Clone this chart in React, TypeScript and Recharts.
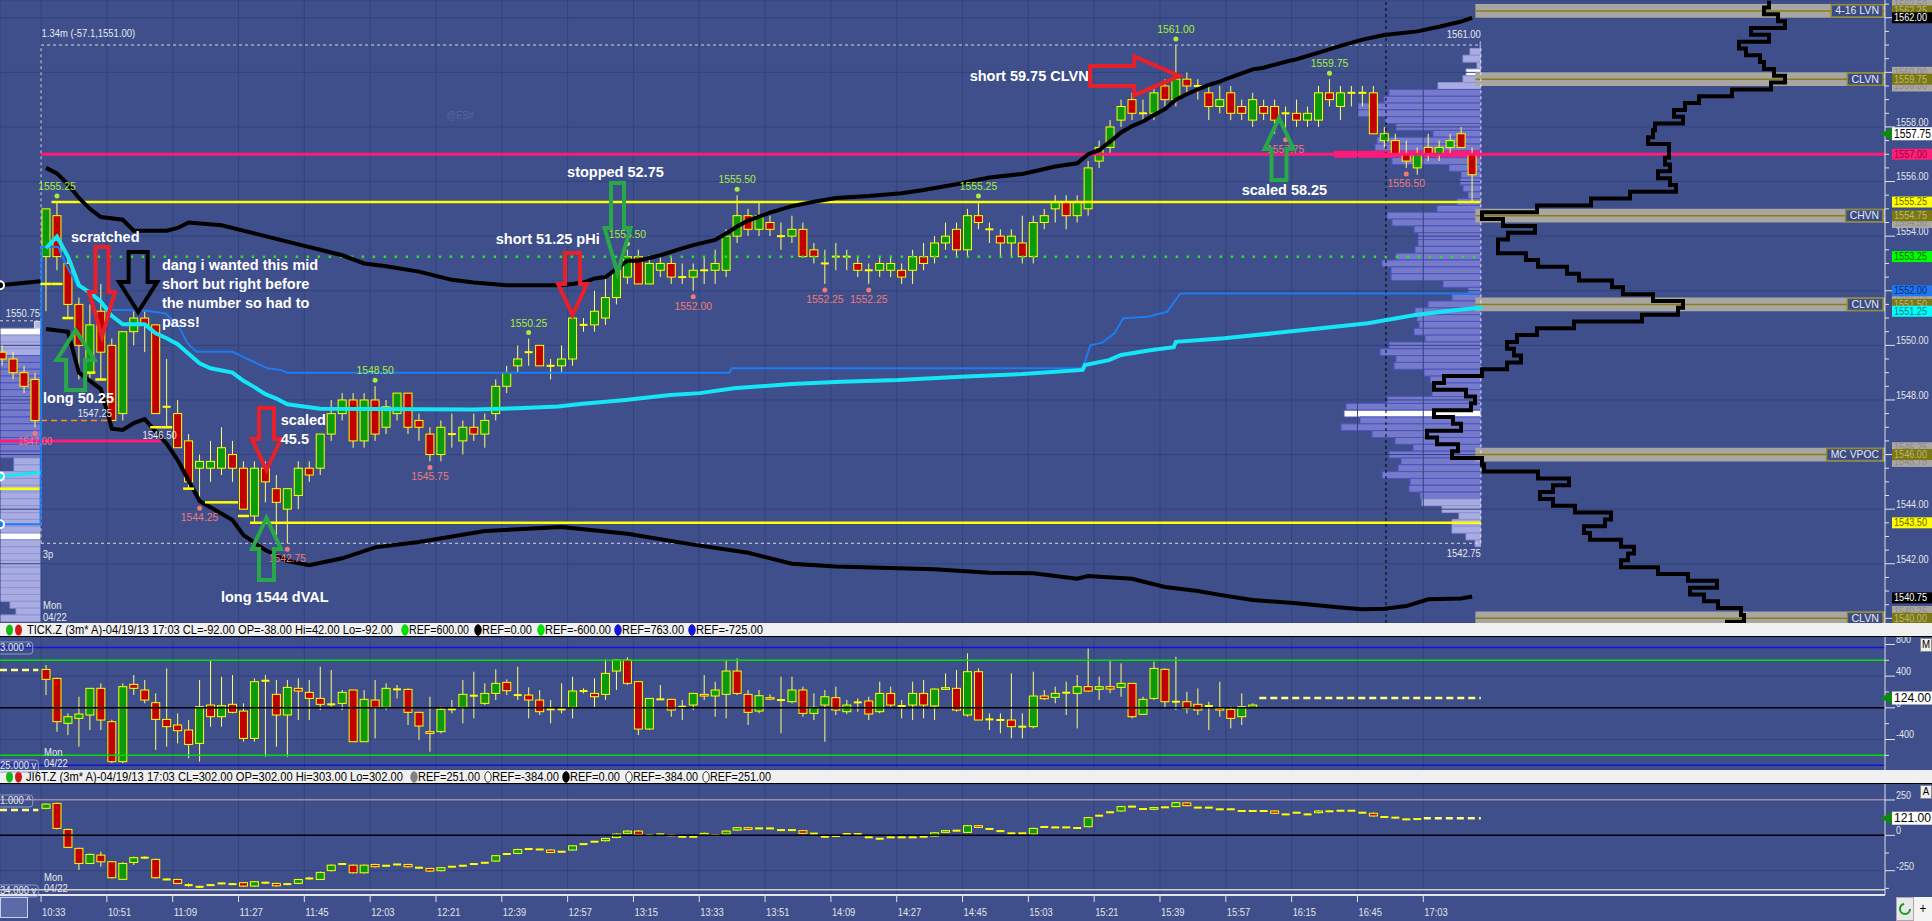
import React from 'react';
import {
  ComposedChart, Bar, Line, Scatter, XAxis, YAxis, CartesianGrid, ReferenceLine, ReferenceArea,
} from 'recharts';

// ---------- layout ----------
const W = 1932;
const H = 921;
const PLOT_R = 1885;
const AXIS_W = W - PLOT_R;
const MAIN_H = 623;
const TICK_TOP = 637;
const TICK_H = 133;
const JI_TOP = 784;
const JI_H = 137;
const XAXIS_H = 26;
const BODY_W = 8;

const SANS = '"Liberation Sans", Arial, sans-serif';
const BG = '#3e4f8b';
const GRID = '#32447d';
const AXIS_TXT = '#e4e4ea';
const BULL = '#0b9a0b';
const BEAR = '#c20000';
const OUTLINE = '#ffff00';
const WICK = '#ffff70';

const X_DOMAIN: [number, number] = [-4.193, 167.64];
const PRICE_DOMAIN: [number, number] = [1539.83, 1562.65];
const TICK_DOMAIN: [number, number] = [-785, 894];
const JI_DOMAIN: [number, number] = [-422, 363];

// ---------- time axis ----------
const timeLabels = ['10:33', '10:51', '11:09', '11:27', '11:45', '12:03', '12:21', '12:39', '12:57', '13:15', '13:33',
  '13:51', '14:09', '14:27', '14:45', '15:03', '15:21', '15:39', '15:57', '16:15', '16:45', '17:03'];
const gridTicksX = timeLabels.map((_, k) => k * 6 - 0.45);

// ---------- ES 3m bars (index -4 .. 130) ----------
const MAIN_FIRST = -4;
const mainOpen = [
  1549.75, 1549.5, 1549.0, 1548.75,
  1553.25, 1554.75, 1553.0, 1551.5, 1549.0, 1551.25, 1550.0, 1547.5, 1550.5, 1551.0,
  1550.75, 1547.75, 1547.5, 1546.5, 1545.5, 1545.5, 1545.5, 1546.0, 1545.5, 1543.75,
  1545.5, 1544.75, 1544.0, 1544.5, 1545.5, 1545.5, 1546.75, 1547.5, 1548.0, 1546.5,
  1548.0, 1547.0, 1547.5, 1548.25, 1547.25, 1546.75, 1546.0, 1546.75, 1546.5, 1547.0,
  1546.75, 1547.5, 1548.5, 1549.25, 1549.75, 1550.0, 1549.25, 1549.25, 1549.5, 1550.75,
  1550.75, 1551.0, 1551.75, 1552.5, 1553.25, 1552.25, 1552.75, 1553.0, 1552.5, 1552.5,
  1552.75, 1552.75, 1552.75, 1554.0, 1554.75, 1554.25, 1554.5, 1554.0, 1554.0, 1554.25,
  1553.5, 1553.0, 1553.25, 1553.25, 1553.0, 1552.75, 1552.75, 1552.75, 1552.75, 1552.75,
  1553.25, 1553.25, 1553.75, 1554.25, 1553.5, 1554.75, 1554.25, 1554.0, 1553.75, 1553.75,
  1553.25, 1554.5, 1555.0, 1555.25, 1554.75, 1555.0, 1556.75, 1557.25, 1558.25, 1559.0,
  1558.5, 1558.5, 1559.5, 1559.0, 1559.75, 1559.5, 1559.25, 1558.75, 1559.25, 1558.75,
  1558.25, 1558.75, 1558.75, 1558.5, 1558.5, 1558.25, 1558.25, 1559.25, 1558.75, 1559.25,
  1559.25, 1559.25, 1557.5, 1557.5, 1557.0, 1556.5, 1557.25, 1557.0, 1557.25, 1557.75, 1557.0,
];
const mainHigh = [
  1550.0, 1549.75, 1549.25, 1549.0,
  1555.0, 1555.25, 1553.25, 1551.75, 1551.5, 1552.25, 1550.25, 1550.5, 1551.25, 1551.25,
  1550.75, 1549.5, 1548.0, 1546.75, 1546.0, 1546.5, 1547.0, 1546.5, 1545.75, 1545.75,
  1545.75, 1545.25, 1544.75, 1545.75, 1545.75, 1546.75, 1548.0, 1548.25, 1548.25, 1548.25,
  1548.5, 1548.0, 1548.25, 1548.25, 1547.5, 1547.0, 1547.25, 1547.5, 1547.25, 1547.5,
  1547.5, 1548.75, 1549.25, 1550.0, 1550.25, 1550.0, 1549.5, 1550.0, 1551.25, 1551.0,
  1552.0, 1552.5, 1553.0, 1553.5, 1553.5, 1553.25, 1553.25, 1553.25, 1553.0, 1553.0,
  1553.25, 1553.5, 1554.25, 1555.5, 1555.0, 1555.25, 1554.75, 1554.5, 1554.75, 1554.5,
  1553.75, 1553.5, 1553.75, 1553.5, 1553.25, 1553.0, 1553.25, 1553.25, 1553.0, 1553.5,
  1553.75, 1554.0, 1554.5, 1554.5, 1555.0, 1555.25, 1554.5, 1554.25, 1554.25, 1554.75,
  1554.75, 1555.0, 1555.5, 1555.5, 1555.5, 1556.75, 1557.5, 1558.25, 1559.0, 1559.25,
  1559.0, 1559.5, 1559.75, 1561.0, 1560.0, 1559.75, 1559.5, 1559.5, 1559.5, 1559.0,
  1559.25, 1559.0, 1559.0, 1558.75, 1559.0, 1558.75, 1559.5, 1559.75, 1559.5, 1559.5,
  1559.5, 1559.5, 1558.0, 1557.75, 1557.5, 1557.25, 1557.75, 1557.5, 1557.75, 1558.0, 1557.25,
];
const mainLow = [
  1549.25, 1548.75, 1548.25, 1547.0,
  1551.25, 1552.75, 1551.0, 1548.75, 1548.75, 1548.75, 1547.25, 1547.25, 1550.0, 1549.75,
  1547.5, 1547.0, 1546.25, 1544.75, 1544.25, 1545.0, 1545.25, 1545.0, 1544.0, 1543.5,
  1544.25, 1543.0, 1542.75, 1544.0, 1545.0, 1545.25, 1546.5, 1547.25, 1546.25, 1546.25,
  1546.5, 1546.75, 1547.25, 1546.75, 1546.5, 1545.75, 1545.75, 1546.25, 1546.0, 1546.5,
  1546.25, 1547.25, 1548.25, 1549.0, 1549.25, 1549.25, 1548.75, 1549.0, 1549.25, 1550.5,
  1550.5, 1550.75, 1551.5, 1552.25, 1552.25, 1552.25, 1552.5, 1552.25, 1552.25, 1552.0,
  1552.25, 1552.25, 1552.5, 1553.75, 1554.0, 1554.0, 1554.0, 1553.5, 1553.75, 1553.25,
  1553.0, 1552.25, 1552.75, 1552.75, 1552.5, 1552.25, 1552.5, 1552.5, 1552.25, 1552.25,
  1552.75, 1553.0, 1553.5, 1553.25, 1553.25, 1554.25, 1553.75, 1553.25, 1553.25, 1553.0,
  1553.0, 1554.25, 1554.5, 1554.25, 1554.5, 1554.75, 1556.5, 1557.0, 1558.0, 1558.25,
  1558.25, 1558.25, 1558.75, 1558.75, 1559.25, 1559.0, 1558.25, 1558.5, 1558.25, 1558.25,
  1558.0, 1558.25, 1557.75, 1557.75, 1558.0, 1558.0, 1558.0, 1558.75, 1558.25, 1558.75,
  1558.75, 1557.75, 1557.25, 1557.0, 1556.5, 1556.25, 1556.75, 1556.75, 1557.0, 1557.25, 1555.25,
];
const mainClose = [
  1549.5, 1549.0, 1548.5, 1547.25,
  1555.0, 1553.25, 1551.5, 1550.0, 1550.75, 1549.75, 1547.25, 1550.5, 1551.0, 1550.75,
  1547.5, 1547.75, 1546.25, 1545.0, 1545.75, 1545.75, 1546.25, 1545.5, 1544.0, 1545.5,
  1545.0, 1544.25, 1544.75, 1545.5, 1545.25, 1546.75, 1547.5, 1548.0, 1546.5, 1548.0,
  1546.75, 1547.75, 1548.25, 1547.0, 1547.0, 1546.0, 1547.0, 1546.75, 1547.0, 1546.75,
  1547.25, 1548.5, 1549.0, 1549.5, 1549.75, 1549.25, 1549.25, 1549.5, 1551.0, 1550.75,
  1551.25, 1551.75, 1552.75, 1553.25, 1552.25, 1553.0, 1553.0, 1552.5, 1552.5, 1552.75,
  1552.75, 1553.0, 1554.0, 1554.75, 1554.25, 1554.75, 1554.25, 1554.0, 1554.25, 1553.25,
  1553.25, 1553.0, 1553.25, 1553.25, 1552.75, 1552.75, 1553.0, 1553.0, 1552.5, 1553.25,
  1553.0, 1553.75, 1554.0, 1553.5, 1554.75, 1554.5, 1554.25, 1553.75, 1554.0, 1553.25,
  1554.5, 1554.75, 1555.25, 1554.75, 1555.25, 1556.5, 1557.25, 1558.0, 1558.75, 1558.5,
  1558.5, 1559.25, 1559.0, 1559.75, 1559.5, 1559.5, 1558.75, 1559.0, 1558.5, 1558.5,
  1559.0, 1558.5, 1558.25, 1558.5, 1558.25, 1558.5, 1559.25, 1559.0, 1559.25, 1559.25,
  1559.25, 1557.75, 1557.75, 1557.0, 1556.75, 1557.0, 1557.0, 1557.25, 1557.5, 1557.25, 1556.25,
];
const swingHighIdx = [1, 30, 44, 53, 63, 85, 103, 117];
const swingLowIdx = [-1, 14, 22, 35, 59, 71, 75, 113, 124];
const unlabeledLows = [-1];

// ---------- indicator curves (bar index, price) ----------
const upperBand = [
  [0, 1556.5], [1, 1556.3], [2, 1555.9], [3, 1555.4], [4, 1555.0], [5, 1554.7], [7, 1554.6], [8, 1554.2], [11, 1554.2],
  [12, 1554.3], [13, 1554.5], [16, 1554.4], [19, 1554.1], [21, 1553.9], [23, 1553.7], [25, 1553.5], [27, 1553.3],
  [29, 1553.0], [31, 1552.9], [34, 1552.7], [36, 1552.5], [37, 1552.4], [39, 1552.3], [42, 1552.2], [47, 1552.2],
  [49, 1552.3], [50, 1552.45], [51, 1552.5], [53, 1553.1], [54, 1553.1], [56, 1553.3], [58, 1553.55], [59, 1553.67],
  [61, 1553.86], [62, 1554.1], [63, 1554.35], [64, 1554.57], [66, 1554.86], [68, 1555.1], [70, 1555.26], [72, 1555.4],
  [75, 1555.47], [78, 1555.57], [80, 1555.69], [83, 1555.9], [86, 1556.15], [89, 1556.28], [92, 1556.55], [94, 1556.67],
  [95, 1557.0], [96, 1557.15], [97, 1557.46], [98, 1557.8], [99, 1558.03], [100, 1558.2], [101, 1558.44], [102, 1558.65],
  [103, 1559.0], [104, 1559.2], [105, 1559.38], [106, 1559.54], [107, 1559.66], [108, 1559.82], [109, 1559.96],
  [110, 1560.11], [111, 1560.17], [113, 1560.39], [114, 1560.48], [116, 1560.72], [118, 1560.97], [120, 1561.2],
  [122, 1561.37], [125, 1561.5], [127, 1561.67], [129, 1561.86], [130, 1562.0],
];
const lowerBand = [
  [0, 1550.6], [2, 1550.5], [3, 1549.0], [5, 1548.4], [6, 1546.95], [7, 1546.9], [8, 1547.15], [9, 1547.3],
  [11, 1546.4], [12, 1545.8], [14, 1544.3],
  [17, 1543.6], [18, 1543.05], [20, 1542.5], [22, 1542.1], [24, 1541.95], [27, 1542.2], [30, 1542.6], [34, 1542.8],
  [40, 1543.2], [47, 1543.35], [53, 1543.1], [59, 1542.7], [64, 1542.4], [68, 1542.0], [72, 1541.9], [81, 1541.8],
  [86, 1541.67], [90, 1541.65], [94, 1541.45], [95, 1541.55], [99, 1541.45], [102, 1541.15], [105, 1541.0],
  [107, 1540.86], [110, 1540.67], [114, 1540.55], [118, 1540.4], [120, 1540.33], [122, 1540.35], [124, 1540.45],
  [126, 1540.7], [129, 1540.73], [130, 1540.8],
];
const prevBand = [[-4.19, 1552.2], [-0.5, 1552.35]];
const blueLine = [
  [-4.19, 1543.45], [-0.5, 1543.45], [-0.4, 1553.6], [1.1, 1553.6], [1.9, 1552.9], [2.9, 1552.15], [4, 1552.0],
  [5.6, 1551.4], [6, 1551.3], [9.2, 1551.27], [10.9, 1551.17], [12.1, 1550.7], [12.9, 1550.08], [13.7, 1549.77],
  [17, 1549.77], [18.2, 1549.53], [20.2, 1549.16], [21.4, 1549.1], [22, 1549.0], [62.3, 1549.0], [62.5, 1549.16],
  [94.5, 1549.16], [95.2, 1550.0], [96.3, 1550.1], [97.4, 1550.44], [98.2, 1550.99], [100.4, 1551.05],
  [102.2, 1551.23], [103.4, 1551.9], [130.4, 1551.9],
];
const cyanLine = [
  [0, 1553.56], [1, 1553.98], [2, 1553.25], [3, 1552.2], [4, 1551.93], [5, 1551.6], [6, 1551.08], [7, 1550.77],
  [9, 1550.77], [10, 1550.44], [11, 1550.26], [12, 1550.04], [13, 1549.69], [14, 1549.34], [15, 1549.16], [17, 1549.0],
  [18, 1548.7], [19, 1548.47], [20, 1548.21], [21, 1548.05], [22, 1547.84], [23.5, 1547.76], [25, 1547.68],
  [39, 1547.65], [43, 1547.7], [46.7, 1547.76], [48.7, 1547.85], [52.8, 1548.0], [56.9, 1548.18], [59.6, 1548.25],
  [62.7, 1548.43], [68, 1548.58], [72.5, 1548.67], [77.7, 1548.73], [83.4, 1548.85], [89, 1548.95], [94.5, 1549.1],
  [94.7, 1549.28], [96.9, 1549.46], [98, 1549.65], [100.8, 1549.83], [102.8, 1549.93], [103, 1550.13],
  [107.4, 1550.26], [111.8, 1550.44], [116, 1550.62], [120.5, 1550.81], [124.8, 1551.11], [128, 1551.27], [130.9, 1551.39],
];
const prevCyan = [[-4.19, 1545.2], [-0.5, 1545.35]];
const devVal = [[0, 1552.25], [1, 1552.25], [2, 1551.0], [4, 1549.0], [5, 1548.75], [10, 1547.0], [11, 1547.0],
  [13, 1544.75], [15, 1544.25], [16, 1544.25], [17, 1544.25], [18, 1543.75]];

// ---------- volume profiles ----------
const SESSION_TOP = 1561.0;
const sessionVolume = [1, 11, 18, 4, 15, 18, 43, 92, 97, 123, 123, 96, 85, 48, 104, 106, 147, 89, 32, 20,
  21, 18, 13, 24, 44, 94, 89, 67, 63, 63, 66, 85, 99, 90, 90, 38, 13, 29, 53, 66,
  64, 62, 67, 56, 92, 101, 85, 87, 57, 51, 46, 49, 94, 135, 137, 121, 140, 109, 86, 68,
  92, 80, 83, 99, 71, 72, 61, 59, 39, 22, 29, 29, 15, 6];
const sessionWhite = [1560.0, 1547.5];
const sessionPink = [1557.0];
const VA: [number, number] = [1544.5, 1559.25];

const PREV_TOP = 1550.5;
const prevVolume = [96, 88, 104, 120, 131, 126, 118, 140, 133, 122, 117, 128, 135, 124, 119, 112, 106, 98, 92,
  27, 27, 84, 90, 96, 102, 95, 88, 93, 99, 104, 110, 97, 91, 86, 94, 100, 89, 83, 92, 87, 31, 25, 80];
const prevWhite = [1550.5, 1543.0];

const COMPOSITE_TOP = 1562.5;
const compositeVolume = [369, 364, 378, 385, 351, 369, 339, 346, 360, 364, 374, 385, 371, 332, 299, 285, 274, 283,
  255, 253, 248, 269, 269, 265, 270, 258, 270, 276, 230, 191, 137, 82, 103, 135, 108, 98, 98, 126, 138, 167,
  179, 212, 223, 253, 283, 278, 242, 174, 137, 117, 107, 114, 121, 107, 82, 44, 34, 66, 75, 71, 34, 53,
  61, 27, 37, 58, 52, 82, 84, 138, 169, 153, 140, 153, 175, 211, 205, 184, 190, 221, 234, 228, 221,
  258, 288, 317, 290, 304, 318, 341, 344, 327];
const PROFILE_ANCHOR = 1481;
const PROFILE_END_I = 130.8;
const COMP_LEFT = 1400;

// ---------- zones, tags, notes ----------
const ZONE_START = 130.3;
const zones = [
  { lo: 1562.0, hi: 1562.5, name: '4-16 LVN' },
  { lo: 1559.5, hi: 1560.0, name: 'CLVN' },
  { lo: 1554.5, hi: 1555.0, name: 'CHVN' },
  { lo: 1551.25, hi: 1551.75, name: 'CLVN' },
  { lo: 1545.75, hi: 1546.25, name: 'MC VPOC' },
  { lo: 1539.75, hi: 1540.25, name: 'CLVN' },
];
const tagPrices = [1562.5, 1562.25, 1562.0, 1560.0, 1559.75, 1559.5, 1557.75, 1557.0, 1555.25, 1554.75, 1554.5,
  1553.25, 1552.0, 1551.75, 1551.5, 1551.25, 1546.25, 1546.0, 1545.75, 1543.5, 1540.75, 1540.25, 1540.0];
const tagKinds = ['edge', 'mid', 'band', 'edge', 'mid', 'edge', 'last', 'pink', 'yellow', 'mid', 'edge',
  'green', 'blue', 'edge', 'mid', 'cyan', 'edge', 'mid', 'edge', 'yellow', 'band', 'edge', 'mid'];
const TAG_STYLE: Record<string, { bg: string; fg: string; rank: number }> = {
  edge: { bg: '#aaa7a3', fg: '#8a8a8a', rank: 0 },
  mid: { bg: '#7b7812', fg: '#bdb67a', rank: 1 },
  band: { bg: '#000000', fg: '#ffffff', rank: 2 },
  pink: { bg: '#ff1f7a', fg: '#9a0035', rank: 2 },
  yellow: { bg: '#ffff00', fg: '#6a6a00', rank: 2 },
  green: { bg: '#00ff00', fg: '#006400', rank: 2 },
  blue: { bg: '#1e78f0', fg: '#0a2a70', rank: 2 },
  cyan: { bg: '#00ffff', fg: '#007777', rank: 2 },
  last: { bg: '#ffffff', fg: '#000000', rank: 3 },
};

const arrows = [
  { i: 5.1, p: 1550.31, dir: 'down', tone: 'red', size: 'tall' },
  { i: 8.4, p: 1551.22, dir: 'down', tone: 'black', size: 'wide' },
  { i: 2.7, p: 1550.56, dir: 'up', tone: 'green', size: 'wide' },
  { i: 20.1, p: 1545.43, dir: 'down', tone: 'red', size: 'short' },
  { i: 20.1, p: 1543.68, dir: 'up', tone: 'green', size: 'short' },
  { i: 48.0, p: 1551.11, dir: 'down', tone: 'red', size: 'short' },
  { i: 52.1, p: 1552.65, dir: 'down', tone: 'green', size: 'tall' },
  { i: 112.4, p: 1558.33, dir: 'up', tone: 'green', size: 'short' },
  { i: 103.3, p: 1559.87, dir: 'right', tone: 'red', size: 'side' },
];
const ARROW_SIZE: Record<string, { len: number; head: number; w: number; shaft: number }> = {
  tall: { len: 90, head: 45, w: 26, shaft: 13 },
  wide: { len: 60, head: 30, w: 38, shaft: 19 },
  short: { len: 62, head: 31, w: 29, shaft: 15 },
  side: { len: 89, head: 45, w: 39, shaft: 20 },
};
const ARROW_TONE: Record<string, string> = { red: '#e8202a', green: '#28a848', black: '#000000' };

const notes = [
  { i: 2.28, p: 1553.93, lines: ['scratched'] },
  { i: 10.57, p: 1552.92, lines: ['dang i wanted this mid', 'short but right before', 'the number so had to', 'pass!'] },
  { i: -0.27, p: 1548.03, lines: ['long 50.25'] },
  { i: 21.4, p: 1547.23, lines: ['scaled', '45.5'] },
  { i: 15.95, p: 1540.75, lines: ['long 1544 dVAL'] },
  { i: 41.0, p: 1553.86, lines: ['short 51.25 pHi'] },
  { i: 47.5, p: 1556.31, lines: ['stopped 52.75'] },
  { i: 84.2, p: 1559.83, lines: ['short 59.75 CLVN'] },
  { i: 109.0, p: 1555.65, lines: ['scaled 58.25'] },
];
const smallNotes = [
  { i: -0.4, p: 1561.4, t: '1.34m (-57.1,1551.00)', tone: 'white', anchor: 'start' },
  { i: 36.5, p: 1558.4, t: '@ES#', tone: 'mark', anchor: 'start' },
  { i: 130.8, p: 1561.37, t: '1561.00', tone: 'white', anchor: 'end' },
  { i: 130.8, p: 1542.36, t: '1542.75', tone: 'white', anchor: 'end' },
  { i: -0.3, p: 1542.32, t: '3p', tone: 'white', anchor: 'start' },
  { i: -0.55, p: 1551.15, t: '1550.75', tone: 'white', anchor: 'end' },
  { i: 2.9, p: 1547.48, t: '1547.25', tone: 'white', anchor: 'start' },
  { i: 8.8, p: 1546.68, t: '1546.50', tone: 'white', anchor: 'start' },
  { i: -2.55, p: 1546.46, t: '1547.00', tone: 'pink', anchor: 'start' },
  { i: -0.27, p: 1540.45, t: 'Mon', tone: 'white', anchor: 'start' },
  { i: -0.27, p: 1540.01, t: '04/22', tone: 'white', anchor: 'start' },
];
const NOTE_TONE: Record<string, string> = { white: '#e8e8f0', mark: '#56649e', pink: '#ff6a8e' };

// ---------- TICK (index 0 .. 110) ----------
const tickOpen = [485, 372, -196, -133, -91, 246, -175, -680, 296, 225, 65, -146, -217, -280, -449, 35, -112, 44, -41, -386,
  342, 170, -91, 246, 195, 119, 44, 56, 225, -428, 98, 6, 233, 233, -57, -301, -301, -19, 6, 153,
  56, 182, 321, 161, 161, 98, -19, -19, 6, 212, 182, 170, 464, 603, 330, -268, 107, 107, 14, 35,
  170, 149, 170, 464, 170, -41, 128, 98, 77, 225, -70, 35, 128, -49, 69, 86, -49, 182, 23, 35,
  182, 23, 233, 246, -91, 456, -146, -154, -154, -238, -238, 149, 132, 191, 182, 267, 233, 267, 258, 309,
  -82, 119, 486, 77, 77, 44, 23, -7, -19, -112, 6];
const tickHigh = [540, 380, -70, 140, 246, 309, -150, 309, 414, 351, 182, 498, -70, -154, 351, 603, 393, 414, 56, 372,
  414, 351, 351, 372, 351, 519, 477, 225, 225, 225, 351, 309, 288, 246, -49, 140, 14, 98, 351, 456,
  309, 486, 359, 519, 258, 225, 98, 309, 393, 246, 372, 612, 612, 637, 330, 119, 288, 107, 98, 191,
  414, 330, 603, 624, 225, 225, 170, 393, 393, 267, 182, 225, 267, 100, 119, 140, 330, 267, 98, 330,
  351, 246, 435, 477, 687, 498, -70, -70, 435, -70, 456, 225, 267, 330, 414, 751, 393, 603, 561, 309,
  140, 582, 498, 645, 203, 245, 77, 330, 14, 182, 56];
const tickLow = [161, -302, -344, -490, -280, -280, -700, -700, 161, 56, -533, -491, -449, -638, -680, -238, -238, -70, -428, -428,
  -617, -491, -617, -154, -154, -28, 14, -28, -428, -428, -386, -28, 119, -217, -407, -554, -323, -70, -196, -133,
  35, 98, 161, 98, -133, -91, -196, -70, -133, 182, -7, 98, 225, 288, -344, -280, 98, -112, -154, -28,
  98, -112, -133, 161, -217, -70, 98, -322, 56, -112, -154, -428, -91, -80, -49, -154, -70, 14, -133, -154,
  -133, -154, 225, -49, -112, -154, -280, -322, -386, -386, -260, 98, 56, -91, -260, 203, 98, 183, 140, -133,
  -91, 98, -7, -28, -70, -91, -280, -112, -260, -217, 0];
const tickClose = [359, -175, -112, -78, 246, -154, -680, 267, 246, 98, -146, -238, -289, -462, 14, -112, 27, -57, -386, 330,
  342, -91, 258, 212, 119, 44, 44, 195, -428, 107, 6, 246, 233, -57, -230, -323, -19, -19, 170, 153,
  182, 309, 216, 161, 98, -49, -19, -19, 212, 212, 140, 435, 603, 309, -268, 119, 107, -28, 14, 182,
  149, 225, 464, 182, -57, 153, 111, 98, 225, -70, 6, 140, -28, 35, 69, -78, 182, 35, 23, 182,
  35, 237, 254, -28, 456, -154, -146, -154, -238, -238, 149, 115, 182, 191, 267, 212, 267, 237, 309, -112,
  107, 498, 77, 77, -7, -28, 23, -28, -133, 14, 35];
const tickRefs = [
  { v: 763, color: '#1414d2' }, { v: 600, color: '#00e000' }, { v: 0, color: '#000000' },
  { v: -600, color: '#00e000' }, { v: -725, color: '#1414d2' },
];
const TICK_LAST = 124;
const TICK_PREV_AVG = 477;

// ---------- JI6T (index 0 .. 125) ----------
const jiOpen = [191, 226, 42, -92, -199, -140, -187, -311, -192, -158, -170, -312, -312, -352, -364, -352, -340, -345, -335, -359,
  -335, -340, -345, -340, -305, -312, -250, -203, -211, -265, -206, -215, -206, -206, -229, -234, -250, -222, -215, -203,
  -194, -182, -132, -128, -97, -100, -104, -116, -104, -62, -45, -38, -15, 14, 30, 2, 7, 0, -10, -10,
  2, 2, 9, 37, 54, 49, 49, 37, 37, 33, 12, -10, -5, 9, 9, -14, -24, -14, -14, -14,
  -10, -5, 21, 33, 21, 68, 45, 30, 14, 14, 9, 59, 56, 56, 52, 61, 139, 163, 172, 203,
  186, 184, 198, 203, 229, 196, 196, 184, 184, 172, 172, 172, 172, 148, 160, 148, 160, 170, 174, 174,
  160, 156, 130, 125, 113, 115];
const jiClose = [221, 49, -85, -199, -135, -187, -300, -199, -158, -158, -300, -312, -340, -352, -364, -352, -340, -345, -359, -328,
  -335, -357, -345, -312, -305, -262, -211, -203, -265, -211, -222, -215, -206, -222, -229, -253, -229, -222, -215, -203,
  -194, -144, -132, -100, -97, -100, -121, -116, -74, -62, -45, -22, 9, 30, 7, 2, 7, 0, -10, -10,
  14, 2, 30, 54, 42, 49, 49, 37, 37, 14, 12, -10, -5, 9, 9, -14, -24, -14, -14, -14,
  -10, 18, 33, 33, 68, 56, 45, 30, 14, 14, 49, 59, 56, 56, 52, 125, 139, 163, 203, 203,
  186, 196, 198, 231, 210, 196, 196, 184, 184, 172, 172, 172, 156, 148, 160, 148, 172, 170, 174, 174,
  160, 137, 130, 125, 113, 115];
const jiHigh = [226, 232, 46, -88, -128, -116, -183, -190, -150, -150, -165, -305, -308, -340, -357, -345, -333, -338, -330, -323,
  -328, -335, -338, -308, -298, -256, -205, -196, -206, -206, -201, -210, -201, -201, -224, -229, -224, -217, -210, -198,
  -189, -139, -127, -95, -92, -95, -99, -111, -69, -57, -40, -17, 14, 35, 35, 7, 12, 5, -5, -5,
  19, 7, 35, 59, 59, 54, 54, 42, 42, 38, 17, -5, 0, 14, 14, -9, -19, -9, -9, -9,
  -5, 23, 38, 38, 73, 73, 50, 35, 19, 19, 54, 64, 61, 61, 57, 130, 144, 168, 208, 208,
  191, 201, 203, 236, 234, 201, 201, 189, 189, 177, 177, 177, 177, 153, 165, 153, 177, 175, 179, 179,
  165, 161, 135, 130, 118, 120];
const jiLow = [185, 42, -90, -245, -203, -222, -305, -315, -210, -165, -305, -318, -345, -364, -371, -359, -347, -352, -364, -364,
  -342, -362, -352, -345, -312, -316, -255, -210, -270, -270, -227, -220, -211, -227, -234, -258, -255, -227, -220, -208,
  -199, -187, -137, -133, -102, -105, -126, -121, -109, -67, -50, -43, -20, 9, 2, -3, 2, -5, -15, -15,
  -3, -3, 4, 32, 37, 44, 44, 32, 32, 9, 7, -15, -10, 4, 4, -19, -29, -19, -19, -19,
  -15, -10, 16, 28, 16, 51, 40, 25, 9, 9, 4, 54, 51, 51, 47, 56, 134, 158, 167, 198,
  181, 179, 193, 198, 205, 191, 191, 179, 179, 167, 167, 167, 151, 143, 155, 143, 155, 165, 169, 169,
  155, 132, 125, 120, 108, 110];
const jiRefs = [
  { v: 251, color: '#a08ca6' }, { v: 0, color: '#000000' }, { v: -384, color: '#cfcfcf' },
];
const JI_LAST = 121;
const JI_PREV_AVG = 180;

// ---------- text helpers ----------
const CW: Record<string, number> = {
  '0': 0.556, '1': 0.556, '2': 0.556, '3': 0.556, '4': 0.556, '5': 0.556, '6': 0.556, '7': 0.556, '8': 0.556, '9': 0.556,
  '.': 0.278, ',': 0.278, ':': 0.278, ' ': 0.278, '-': 0.333, '(': 0.333, ')': 0.333, '/': 0.278, '=': 0.584, '*': 0.389,
  '^': 0.469, '@': 1.015, '#': 0.556,
  a: 0.556, b: 0.556, c: 0.5, d: 0.556, e: 0.556, f: 0.278, g: 0.556, h: 0.556, i: 0.222, j: 0.222, k: 0.5, l: 0.222,
  m: 0.833, n: 0.556, o: 0.556, p: 0.556, q: 0.556, r: 0.333, s: 0.5, t: 0.278, u: 0.556, v: 0.5, w: 0.722, x: 0.5,
  y: 0.5, z: 0.5, A: 0.667, B: 0.667, C: 0.722, D: 0.722, E: 0.667, F: 0.611, G: 0.778, H: 0.722, I: 0.278, J: 0.5,
  K: 0.667, L: 0.556, M: 0.833, N: 0.722, O: 0.778, P: 0.667, Q: 0.778, R: 0.722, S: 0.667, T: 0.611, U: 0.722,
  V: 0.667, W: 0.944, X: 0.667, Y: 0.667, Z: 0.611,
};
const emWidth = (s: string) => Array.from(s).reduce((a, ch) => a + (CW[ch] ?? 0.556), 0);

function NText(props: any) {
  const { text, size, ratio = 0.88, len, ...rest } = props;
  const L = len ?? emWidth(text) * size * ratio;
  return (
    <text fontFamily={SANS} fontSize={size} textLength={L} lengthAdjust="spacingAndGlyphs" {...rest}>{text}</text>
  );
}

// ---------- drawing helpers ----------
const toPts = (arr: number[][]) => arr.map(([i, v]) => ({ i, v }));

function Candle(props: any) {
  const { x, y, width, height, payload } = props;
  if (!payload || x == null) return null;
  const { o, h, l, c } = payload;
  const k = h > l ? height / (h - l) : 0;
  const yOf = (v: number) => y + (h - v) * k;
  const mid = x + width / 2;
  const top = yOf(Math.max(o, c));
  const bot = yOf(Math.min(o, c));
  const x0 = mid - BODY_W / 2;
  return (
    <g>
      <line x1={mid} x2={mid} y1={y} y2={y + height} stroke={WICK} strokeWidth={1} />
      {o === c ? (
        <line x1={x0} x2={x0 + BODY_W} y1={top} y2={top} stroke={OUTLINE} strokeWidth={2} />
      ) : (
        <rect x={x0} y={top} width={BODY_W} height={Math.max(bot - top, 1.5)}
          fill={c > o ? BULL : BEAR} stroke={OUTLINE} strokeWidth={1} />
      )}
    </g>
  );
}

function arrowPath(dir: string, s: { len: number; head: number; w: number; shaft: number }) {
  const hw = s.w / 2;
  const sw = s.shaft / 2;
  if (dir === 'down') return `M0,0 L${-hw},${-s.head} L${-sw},${-s.head} L${-sw},${-s.len} L${sw},${-s.len} L${sw},${-s.head} L${hw},${-s.head} Z`;
  if (dir === 'up') return `M0,0 L${-hw},${s.head} L${-sw},${s.head} L${-sw},${s.len} L${sw},${s.len} L${sw},${s.head} L${hw},${s.head} Z`;
  return `M0,0 L${-s.head},${-hw} L${-s.head},${-sw} L${-s.len},${-sw} L${-s.len},${sw} L${-s.head},${sw} L${-s.head},${hw} Z`;
}

function ArrowShape(props: any) {
  const { cx, cy, payload } = props;
  if (cx == null || !payload) return null;
  return (
    <path d={arrowPath(payload.dir, ARROW_SIZE[payload.size])} transform={`translate(${cx},${cy})`}
      fill="none" stroke={ARROW_TONE[payload.tone]} strokeWidth={4} strokeLinejoin="miter" />
  );
}

function NoteShape(props: any) {
  const { cx, cy, payload } = props;
  if (cx == null || !payload) return null;
  return (
    <text x={cx} y={cy} fill="#ffffff" fontSize={14.5} fontWeight={700} fontFamily={SANS} dominantBaseline="middle">
      {payload.lines.map((ln: string, k: number) => (
        <tspan key={k} x={cx} dy={k === 0 ? 0 : 19}>{ln}</tspan>
      ))}
    </text>
  );
}

function SmallNoteShape(props: any) {
  const { cx, cy, payload } = props;
  if (cx == null || !payload) return null;
  return (
    <NText x={cx} y={cy} fill={NOTE_TONE[payload.tone]} size={11} ratio={0.86} textAnchor={payload.anchor}
      dominantBaseline="middle" text={payload.t} />
  );
}

function HighLabel(props: any) {
  const { cx, cy, payload } = props;
  if (cx == null || !payload) return null;
  return (
    <g>
      <circle cx={cx} cy={cy - 6} r={2.5} fill="#a6f03a" />
      <NText x={cx} y={cy - 15} fill="#a6f03a" size={11.5} ratio={0.9} textAnchor="middle" dominantBaseline="middle" text={payload.t} />
    </g>
  );
}

function LowLabel(props: any) {
  const { cx, cy, payload } = props;
  if (cx == null || !payload) return null;
  return (
    <g>
      <circle cx={cx} cy={cy + 6} r={2.5} fill="#f07a7a" />
      {!payload.quiet && (
        <NText x={cx} y={cy + 16} fill="#f07a7a" size={11.5} ratio={0.9} textAnchor="middle" dominantBaseline="middle" text={payload.t} />
      )}
    </g>
  );
}

// price tag box drawn on the right axis strip, at the tick's y position
function TagBox({ y, kind, text }: { y: number; kind: string; text: string }) {
  const st = TAG_STYLE[kind];
  const last = kind === 'last';
  const h = last ? 13 : 11;
  const x = PLOT_R;
  return (
    <g>
      {last && <path d={`M${x - 5},${y} L${x + 7},${y - 6} L${x + 7},${y + 6} Z`} fill="#0b8a0b" />}
      <rect x={x + 7} y={y - h / 2} width={AXIS_W - 7} height={h} fill={st.bg} />
      <NText x={x + 9} y={y + 0.5} fill={st.fg} size={last ? 12.5 : 11} len={last ? 37 : 33} dominantBaseline="middle" text={text} />
    </g>
  );
}

function ZoneLabel(props: any) {
  const { cx, cy, payload } = props;
  if (cx == null || !payload) return null;
  const tw = emWidth(payload.name) * 11.5 * 0.9;
  const w = tw + 8;
  return (
    <g>
      <rect x={cx - 2 - w} y={cy - 6} width={w} height={12} fill="#3a4b86" stroke="#8f8a2e" strokeWidth={1.5} />
      <NText x={cx - 6} y={cy + 0.5} fill="#e8e8ee" size={11.5} len={tw} textAnchor="end" dominantBaseline="middle" text={payload.name} />
    </g>
  );
}

function makeAxisTick(majorStep: number, labelFmt: (v: number) => string, skip: number[] = []) {
  return function AxisTick(props: any) {
    const { y, payload } = props;
    const x = PLOT_R;
    const v = payload.value;
    const major = Math.abs(v % majorStep) < 1e-6;
    const showText = major && !skip.some((s) => Math.abs(s - v) < 0.3);
    return (
      <g>
        <line x1={x} x2={x + (major ? 10 : 4)} y1={y} y2={y} stroke={AXIS_TXT} strokeWidth={1} />
        {showText && (
          <NText x={x + 11} y={y - 4} fill={AXIS_TXT} size={11} ratio={0.82} dominantBaseline="middle" text={labelFmt(v)} />
        )}
      </g>
    );
  };
}

const PriceTick = makeAxisTick(2, (v) => v.toFixed(2), [1562, 1560, 1552, 1546, 1540]);
const TickTick = makeAxisTick(400, (v) => String(v));
const JiTick = makeAxisTick(250, (v) => String(v));

function TimeTick(props: any) {
  const { x, y, index } = props;
  return (
    <g>
      <line x1={x} x2={x} y1={y + 1} y2={y + 7} stroke={AXIS_TXT} />
      <NText x={x + 1} y={y + 18} fill={AXIS_TXT} size={11} ratio={0.85} dominantBaseline="middle" text={timeLabels[index]} />
    </g>
  );
}

const range = (a: number, b: number, s: number) => {
  const out: number[] = [];
  for (let v = a; v <= b + 1e-9; v += s) out.push(Math.round(v * 100) / 100);
  return out;
};

// second, mirrored right axis that carries only the coloured price tags
function tagAxis(domain: [number, number], tags: { p: number; kind: string; t: string }[]) {
  return (
    <YAxis yAxisId="tags" orientation="right" mirror type="number" domain={domain} ticks={tags.map((t) => t.p)}
      interval={0} axisLine={false} tickLine={false} tickSize={0} tickMargin={0} width={AXIS_W} allowDataOverflow
      tick={(props: any) => {
        const tag = tags.find((t) => Math.abs(t.p - props.payload.value) < 1e-6);
        return tag ? <TagBox y={props.y} kind={tag.kind} text={tag.t} /> : <g />;
      }} />
  );
}

// ---------- panels ----------
function MainChart() {
  const data = mainOpen.map((o, k) => ({
    i: MAIN_FIRST + k, o, h: mainHigh[k], l: mainLow[k], c: mainClose[k], range: [mainLow[k], mainHigh[k]],
  }));
  const at = (i: number) => data[i - MAIN_FIRST];
  const highs = swingHighIdx.map((i) => ({ i, p: at(i).h, t: at(i).h.toFixed(2) }));
  const lows = swingLowIdx.map((i) => ({ i, p: at(i).l, t: at(i).l.toFixed(2), quiet: unlabeledLows.includes(i) }));
  const tags = tagPrices
    .map((p, k) => ({ p, kind: tagKinds[k], t: p.toFixed(2) }))
    .sort((a, b) => TAG_STYLE[a.kind].rank - TAG_STYLE[b.kind].rank);
  const zoneMarks = zones.map((z) => ({ i: X_DOMAIN[1], p: (z.lo + z.hi) / 2, name: z.name }));
  const lastI = PROFILE_END_I;

  return (
    <ComposedChart width={W} height={MAIN_H} data={data} margin={{ top: 0, right: 0, bottom: 0, left: 0 }}>
      <XAxis dataKey="i" type="number" domain={X_DOMAIN} ticks={gridTicksX} hide allowDataOverflow />
      <YAxis yAxisId="g" type="number" domain={PRICE_DOMAIN} ticks={range(1540, 1562, 2)} hide allowDataOverflow />
      <YAxis orientation="right" type="number" domain={PRICE_DOMAIN} ticks={range(1540, 1562.5, 0.5)} width={AXIS_W}
        interval={0} tickSize={0} tickMargin={0} tickLine={false} axisLine={{ stroke: AXIS_TXT }}
        tick={(p: any) => <PriceTick {...p} />} allowDataOverflow />
      {tagAxis(PRICE_DOMAIN, tags)}
      <CartesianGrid yAxisId="g" stroke={GRID} strokeWidth={1} />

      {zones.map((z, k) => (
        <ReferenceArea key={`z${k}`} x1={ZONE_START} x2={X_DOMAIN[1]} y1={z.lo} y2={z.hi} fill="#a9a6a1"
          fillOpacity={1} stroke="none" ifOverflow="hidden" />
      ))}
      {zones.map((z, k) => (
        <ReferenceLine key={`zl${k}`} segment={[{ x: ZONE_START, y: (z.lo + z.hi) / 2 }, { x: X_DOMAIN[1], y: (z.lo + z.hi) / 2 }]}
          stroke="#857f1c" strokeWidth={1.5} ifOverflow="hidden" />
      ))}

      <ReferenceLine segment={[{ x: -0.45, y: 1561.0 }, { x: lastI, y: 1561.0 }]} stroke="#d6d6e0" strokeDasharray="3 3" />
      <ReferenceLine segment={[{ x: -0.45, y: 1542.75 }, { x: lastI, y: 1542.75 }]} stroke="#d6d6e0" strokeDasharray="3 3" />
      <ReferenceLine segment={[{ x: -0.45, y: 1542.75 }, { x: -0.45, y: 1561.0 }]} stroke="#d6d6e0" strokeDasharray="3 3" />
      <ReferenceLine segment={[{ x: lastI, y: 1542.75 }, { x: lastI, y: 1561.0 }]} stroke="#e8e8f0" strokeDasharray="3 3" />
      <ReferenceLine segment={[{ x: X_DOMAIN[0], y: 1550.9 }, { x: -0.8, y: 1550.9 }]} stroke="#d6d6e0" strokeDasharray="3 3" />
      <ReferenceArea x1={-1.05} x2={-0.45} y1={1550.62} y2={1550.88} fill="#b8bcd8" fillOpacity={1} stroke="#e0e0ee" />
      <ReferenceLine x={122.15} stroke="#000" strokeDasharray="3 3" />

      <ReferenceLine segment={[{ x: -0.45, y: 1557.0 }, { x: X_DOMAIN[1], y: 1557.0 }]} stroke="#ff1a78" strokeWidth={3} />
      <ReferenceLine segment={[{ x: X_DOMAIN[0], y: 1546.5 }, { x: 10.5, y: 1546.5 }]} stroke="#ff1a78" strokeWidth={3} />
      <ReferenceLine segment={[{ x: -0.45, y: 1547.25 }, { x: 5.6, y: 1547.25 }]} stroke="#ff8c1a" strokeWidth={1.5} strokeDasharray="6 4" />
      <ReferenceLine segment={[{ x: 0.5, y: 1555.25 }, { x: lastI, y: 1555.25 }]} stroke="#ffff00" strokeWidth={2.5} />
      <ReferenceLine segment={[{ x: 18.6, y: 1543.5 }, { x: lastI, y: 1543.5 }]} stroke="#ffff00" strokeWidth={2.5} />
      <ReferenceLine segment={[{ x: X_DOMAIN[0], y: 1544.75 }, { x: -0.5, y: 1544.75 }]} stroke="#ffff00" strokeWidth={2.5} />
      <ReferenceLine segment={[{ x: 2.7, y: 1553.25 }, { x: lastI, y: 1553.25 }]} stroke="#2be02b" strokeWidth={2.5} strokeDasharray="2.5 8.5" />

      <Line data={toPts(blueLine)} dataKey="v" type="linear" stroke="#1f7bf0" strokeWidth={2} dot={false} isAnimationActive={false} />
      <Line data={toPts(cyanLine)} dataKey="v" type="linear" stroke="#14e6f5" strokeWidth={4} dot={false} isAnimationActive={false} />
      <Line data={toPts(prevCyan)} dataKey="v" type="linear" stroke="#14e6f5" strokeWidth={3} dot={false} isAnimationActive={false} />
      <Line data={toPts(upperBand)} dataKey="v" type="linear" stroke="#000" strokeWidth={4} dot={false} isAnimationActive={false} />
      <Line data={toPts(lowerBand)} dataKey="v" type="linear" stroke="#000" strokeWidth={4} dot={false} isAnimationActive={false} />
      <Line data={toPts(prevBand)} dataKey="v" type="linear" stroke="#000" strokeWidth={4} dot={false} isAnimationActive={false} />
      <Scatter data={toPts(devVal)} dataKey="v" isAnimationActive={false}
        shape={(p: any) => (p.cx == null ? null : <line x1={p.cx - 5.5} x2={p.cx + 5.5} y1={p.cy} y2={p.cy} stroke="#ffff00" strokeWidth={2.5} />)} />

      <Bar dataKey="range" barSize={9} isAnimationActive={false} shape={(p: any) => <Candle {...p} />} />

      <Scatter data={highs} dataKey="p" isAnimationActive={false} shape={(p: any) => <HighLabel {...p} />} />
      <Scatter data={lows} dataKey="p" isAnimationActive={false} shape={(p: any) => <LowLabel {...p} />} />
      <Scatter data={smallNotes} dataKey="p" isAnimationActive={false} shape={(p: any) => <SmallNoteShape {...p} />} />
      <Scatter data={arrows} dataKey="p" isAnimationActive={false} shape={(p: any) => <ArrowShape {...p} />} />
      <Scatter data={notes} dataKey="p" isAnimationActive={false} shape={(p: any) => <NoteShape {...p} />} />
      <Scatter data={zoneMarks} dataKey="p" isAnimationActive={false} shape={(p: any) => <ZoneLabel {...p} />} />
    </ComposedChart>
  );
}

function ProfileOverlay(props: { width: number; top: number; volumes: number[]; white: number[]; pink: number[]; light: (p: number) => boolean }) {
  const { width, top, volumes, white, pink, light } = props;
  return (
    <ComposedChart width={width} height={MAIN_H} data={[{ v: 0 }, { v: width }]} margin={{ top: 0, right: 0, bottom: 0, left: 0 }}>
      <XAxis dataKey="v" type="number" domain={[0, width]} reversed hide allowDataOverflow />
      <YAxis type="number" domain={PRICE_DOMAIN} hide allowDataOverflow />
      {volumes.map((vol, k) => {
        const p = top - k * 0.25;
        const isWhite = white.includes(p);
        const isPink = pink.includes(p);
        const lt = light(p);
        const fill = isWhite ? '#ffffff' : isPink ? '#ff1a78' : lt ? '#a8ace0' : '#757ac9';
        return (
          <ReferenceArea key={k} x1={0} x2={vol} y1={p - 0.125} y2={p + 0.125} fill={fill} fillOpacity={1}
            stroke={isPink ? 'none' : lt ? '#8e93d6' : '#4c53c4'} strokeWidth={1} ifOverflow="hidden" />
        );
      })}
    </ComposedChart>
  );
}

function CompositeOverlay() {
  const width = PLOT_R - COMP_LEFT;
  const steps = compositeVolume.flatMap((vol, k) => {
    const p = COMPOSITE_TOP - k * 0.25;
    return [{ v: vol, p: p + 0.125 }, { v: vol, p: p - 0.125 }];
  });
  return (
    <ComposedChart width={width} height={MAIN_H} data={steps} margin={{ top: 0, right: 0, bottom: 0, left: 0 }}>
      <XAxis dataKey="v" type="number" domain={[0, width]} hide allowDataOverflow />
      <YAxis type="number" domain={PRICE_DOMAIN} hide allowDataOverflow />
      <Line dataKey="p" type="linear" stroke="#000" strokeWidth={4} dot={false} isAnimationActive={false} />
    </ComposedChart>
  );
}

function SubPanel(props: {
  height: number; domain: [number, number]; open: number[]; high: number[]; low: number[]; close: number[];
  refs: { v: number; color: string }[]; gridTicks: number[]; axisTicks: number[]; tick: any; last: number; prevAvg: number;
  showX?: boolean;
}) {
  const { height, domain, open, high, low, close, refs, gridTicks, axisTicks, tick, last, prevAvg, showX } = props;
  const data = open.map((o, k) => ({ i: k, o, h: high[k], l: low[k], c: close[k], range: [low[k], high[k]] }));
  const lastBar = data.length - 1;
  const tags = [{ p: last, kind: 'last', t: last.toFixed(2) }];
  return (
    <ComposedChart width={W} height={height} data={data} margin={{ top: 0, right: 0, bottom: 0, left: 0 }}>
      <XAxis dataKey="i" type="number" domain={X_DOMAIN} ticks={gridTicksX} hide={!showX} allowDataOverflow
        height={XAXIS_H} interval={0} tickSize={0} tickMargin={0} tickLine={false} axisLine={{ stroke: AXIS_TXT, strokeWidth: 2 }}
        tick={(p: any) => <TimeTick {...p} />} />
      <YAxis yAxisId="g" type="number" domain={domain} ticks={gridTicks} hide allowDataOverflow />
      <YAxis orientation="right" type="number" domain={domain} ticks={axisTicks} width={AXIS_W} interval={0}
        tickSize={0} tickMargin={0} tickLine={false} axisLine={{ stroke: AXIS_TXT }} tick={tick} allowDataOverflow />
      {tagAxis(domain, tags)}
      <CartesianGrid yAxisId="g" stroke={GRID} strokeWidth={1} />
      {refs.map((r, k) => (
        <ReferenceLine key={k} y={r.v} stroke={r.color} strokeWidth={1.5} />
      ))}
      <ReferenceLine segment={[{ x: X_DOMAIN[0], y: prevAvg }, { x: -0.7, y: prevAvg }]} stroke="#ffff80" strokeWidth={2.5} strokeDasharray="7 4" />
      <ReferenceLine segment={[{ x: lastBar + 0.6, y: last }, { x: PROFILE_END_I, y: last }]} stroke="#ffff80" strokeWidth={2.5} strokeDasharray="7 4" />
      <Bar dataKey="range" barSize={9} isAnimationActive={false} shape={(p: any) => <Candle {...p} />} />
    </ComposedChart>
  );
}

// ---------- header strips and fixed texts ----------
type Seg = { x: number; w: number; t: string; dot?: string; hollow?: boolean };
const tickHeaderSegs: Seg[] = [
  { x: 27, w: 366, t: 'TICK.Z (3m* A)-04/19/13 17:03 CL=-92.00 OP=-38.00 Hi=42.00 Lo=-92.00' },
  { x: 409, w: 60, t: 'REF=600.00', dot: '#00e000' },
  { x: 482, w: 50, t: 'REF=0.00', dot: '#000000' },
  { x: 545, w: 66, t: 'REF=-600.00', dot: '#00e000' },
  { x: 622, w: 62, t: 'REF=763.00', dot: '#1414d2' },
  { x: 696, w: 67, t: 'REF=-725.00', dot: '#1414d2' },
];
const jiHeaderSegs: Seg[] = [
  { x: 26, w: 377, t: 'JI6T.Z (3m* A)-04/19/13 17:03 CL=302.00 OP=302.00 Hi=303.00 Lo=302.00' },
  { x: 418, w: 62, t: 'REF=251.00', dot: '#808080' },
  { x: 492, w: 67, t: 'REF=-384.00', dot: '#808080', hollow: true },
  { x: 570, w: 50, t: 'REF=0.00', dot: '#000000' },
  { x: 633, w: 65, t: 'REF=-384.00', dot: '#808080', hollow: true },
  { x: 710, w: 61, t: 'REF=251.00', dot: '#808080', hollow: true },
];

function HeaderStrip({ top, segs }: { top: number; segs: Seg[] }) {
  const cy = top + 7;
  return (
    <g>
      <rect x={0} y={top} width={W} height={13} fill="#f0f0f0" />
      <line x1={0} x2={W} y1={top + 13.5} y2={top + 13.5} stroke="#000" strokeWidth={1} />
      <ellipse cx={9.5} cy={cy} rx={3.5} ry={5.5} fill="#14b814" />
      <ellipse cx={18.5} cy={cy} rx={3.5} ry={5.5} fill="#d01818" />
      {segs.map((s, k) => (
        <g key={k}>
          {s.dot && (
            <ellipse cx={s.x - 4} cy={cy} rx={3.2} ry={5.3} fill={s.hollow ? '#ffffff' : s.dot}
              stroke={s.hollow ? '#333' : s.dot} strokeWidth={1} />
          )}
          <NText x={s.x} y={cy + 0.5} size={12} len={s.w} fill="#000" dominantBaseline="middle" text={s.t} />
        </g>
      ))}
    </g>
  );
}

const edgeTexts = [
  { x: 0, y: 648, t: '3.000 ^', box: true },
  { x: 0, y: 766, t: '25.000 v', box: true },
  { x: 44, y: 753, t: 'Mon' },
  { x: 44, y: 764, t: '04/22' },
  { x: 0, y: 801, t: '1.000 ^', box: true },
  { x: 0, y: 891, t: '34.000 v', box: true },
  { x: 44, y: 878, t: 'Mon' },
  { x: 44, y: 889, t: '04/22' },
];

function FixedLayer() {
  return (
    <svg width={W} height={H} style={{ position: 'absolute', left: 0, top: 0, pointerEvents: 'none' }}>
      <HeaderStrip top={623} segs={tickHeaderSegs} />
      <HeaderStrip top={770} segs={jiHeaderSegs} />
      {edgeTexts.map((e, k) => {
        const w = emWidth(e.t) * 11 * 0.86;
        return (
          <g key={k}>
            {e.box && <rect x={e.x - 3} y={e.y - 6} width={w + 5} height={12} rx={3} fill="none" stroke="#8a9ad0" strokeWidth={1} />}
            <NText x={e.x} y={e.y + 0.5} size={11} len={w} fill="#e8e8f0" dominantBaseline="middle" text={e.t} />
          </g>
        );
      })}
      <rect x={1920.5} y={638.5} width={11} height={13} fill="#f0f0f0" stroke="#888" />
      <NText x={1926} y={645.5} size={11} textAnchor="middle" dominantBaseline="middle" fill="#000" text="M" />
      <rect x={1920.5} y={785.5} width={11} height={13} fill="#f0f0f0" stroke="#888" />
      <NText x={1926} y={792.5} size={11} textAnchor="middle" dominantBaseline="middle" fill="#000" text="A" />
      <rect x={0.5} y={897.5} width={27} height={20} fill="#5b6ba8" stroke="#c8d0ee" />
      <rect x={1896.5} y={897.5} width={17} height={23} fill="#e8e8e8" stroke="#aaa" />
      <circle cx={1905} cy={909} r={5} fill="none" stroke="#1a9a1a" strokeWidth={2} strokeDasharray="22 10" />
      <rect x={1914} y={897} width={18} height={24} fill="#f4f4f4" />
      <NText x={1923} y={909} size={14} textAnchor="middle" dominantBaseline="middle" fill="#000" text="+" />
    </svg>
  );
}

export default function App() {
  return (
    <div style={{ position: 'absolute', left: 0, top: 0, width: W, height: H, background: BG, overflow: 'hidden', fontFamily: SANS }}>
      <div style={{ position: 'absolute', left: 0, top: 0 }}>
        <ProfileOverlay width={41} top={PREV_TOP} volumes={prevVolume} white={prevWhite} pink={[]}
          light={(p) => p > 1549.6 || p < 1545.9} />
      </div>
      <div style={{ position: 'absolute', left: 0, top: 0 }}>
        <ProfileOverlay width={PROFILE_ANCHOR} top={SESSION_TOP} volumes={sessionVolume} white={sessionWhite} pink={sessionPink}
          light={(p) => p < VA[0] || p > VA[1]} />
      </div>
      <div style={{ position: 'absolute', left: 0, top: 0 }}>
        <MainChart />
      </div>
      <div style={{ position: 'absolute', left: COMP_LEFT, top: 0 }}>
        <CompositeOverlay />
      </div>
      <div style={{ position: 'absolute', left: 0, top: TICK_TOP }}>
        <SubPanel height={TICK_H} domain={TICK_DOMAIN} open={tickOpen} high={tickHigh} low={tickLow} close={tickClose}
          refs={tickRefs} gridTicks={[400, -400]} axisTicks={[800, 600, 400, 200, 0, -200, -400, -600]}
          tick={(p: any) => <TickTick {...p} />} last={TICK_LAST} prevAvg={TICK_PREV_AVG} />
      </div>
      <div style={{ position: 'absolute', left: 0, top: JI_TOP }}>
        <SubPanel height={JI_H} domain={JI_DOMAIN} open={jiOpen} high={jiHigh} low={jiLow} close={jiClose}
          refs={jiRefs} gridTicks={[-250]} axisTicks={[250, 125, 0, -125, -250, -375]}
          tick={(p: any) => <JiTick {...p} />} last={JI_LAST} prevAvg={JI_PREV_AVG} showX />
      </div>
      <FixedLayer />
    </div>
  );
}
